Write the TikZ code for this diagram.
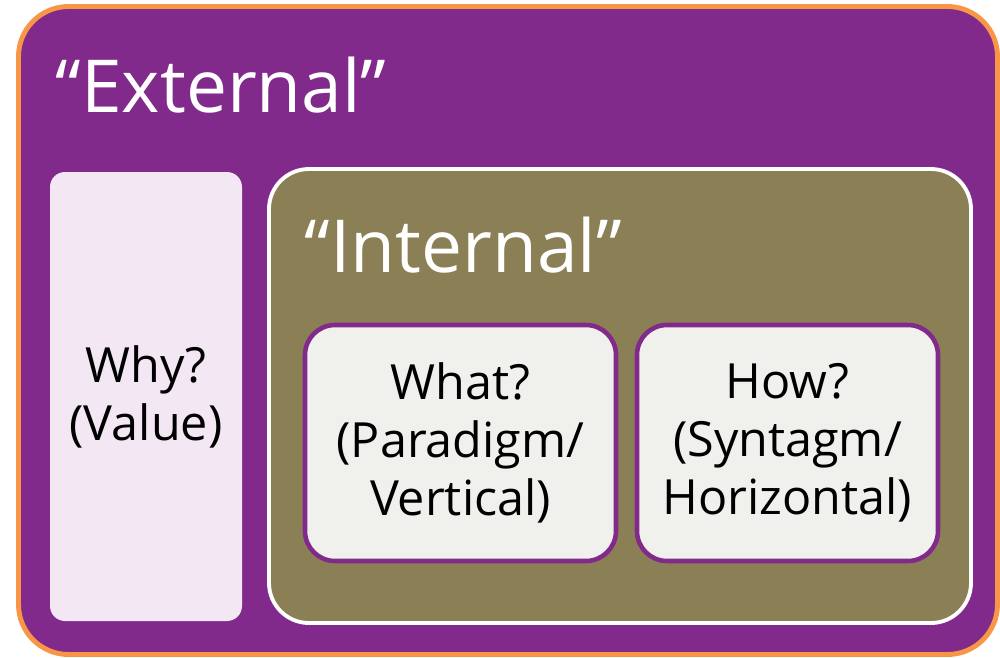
\documentclass[tikz,border=0pt]{standalone}
\usepackage{fontspec}
\setmainfont{Open Sans}

\definecolor{extpurple}{HTML}{812A8C}
\definecolor{extorange}{HTML}{F79646}
\definecolor{intolive}{HTML}{8A7F55}
\definecolor{whylav}{HTML}{F2E7F2}
\definecolor{boxgrey}{HTML}{F0F1EC}

\tikzset{
  titletext/.style={anchor=base west, inner sep=0pt, text=white,
    font=\fontsize{20.8}{24}\selectfont},
  boxtext/.style={align=center, text=black,
    font=\fontsize{13.8}{16.5}\selectfont},
  questionbox/.style={boxtext, draw=extpurple, line width=1.3pt,
    fill=boxgrey, rounded corners=3mm, minimum height=23.6mm}
}

\begin{document}
\begin{tikzpicture}[x=0.1mm,y=-0.1mm]
\useasboundingbox (0,0) rectangle (1000,657);

\node[draw=extorange, line width=1.4pt, fill=extpurple, rounded corners=5mm,
  minimum width=97.9mm, minimum height=64.8mm] (E) at (508,330.5) {};%

\node[titletext] (ET) at (55,112)
{``External''};%

\node[boxtext, fill=whylav, rounded corners=1.5mm,
  minimum width=19.2mm, minimum height=44.9mm] (W) at (146,396.5)
{Why?\\(Value)};%

\node[draw=white, line width=1.1pt, fill=intolive, rounded corners=4mm,
  minimum width=70.2mm, minimum height=45.4mm] (I) at (620,396) {};%

\node[titletext] (IT) at (304,272)
{``Internal''};%

\node[questionbox, minimum width=31.1mm] (P) at (460.5,443)
{What?\\(Paradigm/\\Vertical)};%

\node[questionbox, minimum width=30.1mm] (S) at (787.5,443)
{How?\\(Syntagm/\\Horizontal)};%

\end{tikzpicture}
\end{document}
